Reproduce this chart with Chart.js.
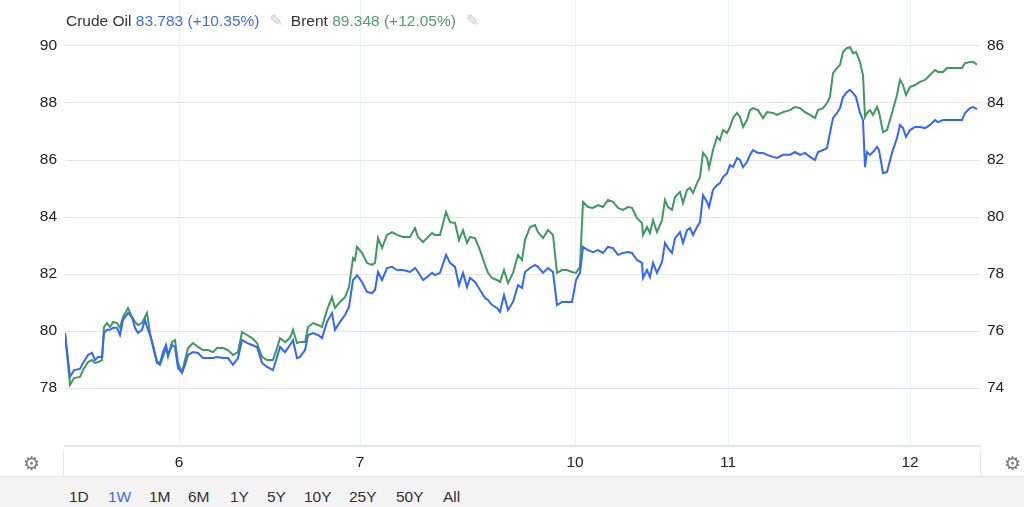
<!DOCTYPE html>
<html>
<head>
<meta charset="utf-8">
<script src="https://cdn.jsdelivr.net/npm/chart.js@4.4.1/dist/chart.umd.min.js"></script>
<style>
  html, body { margin: 0; padding: 0; background: #fff; }
  body { width: 1024px; height: 507px; position: relative; overflow: hidden;
         font-family: "Liberation Sans", Arial, sans-serif; color: #333; }
  #wrap { position: absolute; left: 0; top: 0; width: 1024px; height: 476px; }
  #legend { position: absolute; left: 66px; top: 11px; font-size: 15.5px; white-space: nowrap; color: #333; }
  #legend .crude { color: #3c6cf5; }
  #legend .brent { color: #4f9d69; }
  #legend .pen { color: #c8c8c8; font-family: "DejaVu Sans"; font-size: 16px; margin: 0 8px 0 10px; }
  .gear { position: absolute; top: 452px; font-family: "DejaVu Sans"; font-size: 19px; color: #7a7a7a; }
  .sep { position: absolute; top: 450px; width: 1px; height: 26px; background: #e8e8e8; }
  #ranges { position: absolute; left: 0; top: 476px; width: 1024px; height: 31px;
            background: #f4f4f4; border-top: 1px solid #e6e6e6; font-size: 15.5px; color: #333; }
  #ranges span { position: absolute; top: 11px; }
  #ranges span.on { color: #3c6cf5; }
</style>
</head>
<body>
<div id="wrap"><canvas id="oilChart"></canvas></div>
<div id="legend">Crude Oil <span class="crude">83.783 (+10.35%)</span><span class="pen">✎</span>Brent <span class="brent">89.348 (+12.05%)</span><span class="pen">✎</span></div>
<div class="sep" style="left:63px"></div>
<div class="sep" style="left:980px"></div>
<div class="gear" style="left:23px">⚙</div>
<div class="gear" style="left:1004px">⚙</div>
<div id="ranges"></div>
<script>
// bar positions (trading-time index) and prices
const bars = [0,5,9,15,18,23,27,30,33,37,39,42,45,48,52,55,58,63,67,70,73,77,80,82,85,88,92,95,98,101,103,107,110,113,117,120,123,128,133,138,143,148,152,158,163,168,173,177,182,187,192,197,202,208,212,215,220,225,228,232,235,240,243,248,253,257,262,267,270,275,280,284,288,290,292,297,302,307,310,313,317,322,327,332,338,345,350,353,358,362,367,370,375,381,385,390,394,398,402,405,410,415,420,423,427,432,435,439,443,448,453,457,460,465,470,473,478,483,488,492,497,502,507,511,515,518,523,528,533,538,543,548,553,558,563,567,572,577,578,582,585,588,592,597,600,603,607,610,615,618,622,625,628,632,635,638,642,644,648,652,655,658,662,665,668,672,675,678,682,685,688,693,698,702,708,712,718,725,730,735,740,745,750,753,758,762,765,768,772,775,778,782,785,788,791,795,798,800,802,805,808,812,814,818,822,827,832,835,838,841,845,850,855,860,865,870,873,878,882,887,892,897,900,905,908,912];

const brent = [79.93,78.11,78.35,78.39,78.63,78.91,78.98,78.88,78.91,78.98,80.14,80.28,80.14,80.32,80.28,80.11,80.49,80.81,80.49,80.32,80.21,80.28,80.49,80.63,79.93,79.44,78.88,78.81,79.09,79.40,79.09,79.61,79.68,78.88,78.56,78.98,79.40,79.58,79.44,79.33,79.33,79.26,79.40,79.40,79.33,79.16,79.26,79.96,79.86,79.75,79.58,79.09,78.98,78.98,79.40,79.75,79.61,79.75,80.04,79.58,79.61,79.61,80.14,80.28,80.21,80.14,80.74,81.19,80.81,81.02,81.19,81.54,82.56,82.49,82.95,82.74,82.39,82.32,82.39,83.26,82.91,83.37,83.47,83.37,83.30,83.30,83.61,83.30,83.12,83.26,83.44,83.37,83.37,84.18,83.82,83.79,83.19,83.54,83.09,83.30,83.26,82.84,82.32,82.04,81.86,81.79,81.72,82.14,81.68,82.04,82.67,82.49,83.19,83.65,83.72,83.47,83.26,83.54,83.37,82.04,82.14,82.14,82.07,82.04,82.25,84.53,84.35,84.32,84.42,84.35,84.60,84.53,84.32,84.25,84.35,84.32,83.96,83.79,83.37,83.65,83.44,83.89,83.47,83.89,84.60,84.35,84.25,84.70,84.88,84.49,84.95,85.02,84.84,85.19,85.40,86.25,86.07,85.72,86.35,86.81,86.70,87.05,86.95,87.16,87.47,87.65,87.51,87.16,87.40,87.75,87.82,87.75,87.47,87.68,87.65,87.58,87.68,87.75,87.86,87.82,87.68,87.58,87.47,87.75,87.82,88.00,88.21,89.05,89.23,89.33,89.79,89.93,89.96,89.75,89.79,89.44,88.98,87.51,87.65,87.75,87.58,87.86,87.68,86.98,87.05,87.65,88.28,88.81,88.63,88.28,88.56,88.63,88.74,88.81,88.98,89.16,89.09,89.09,89.23,89.23,89.23,89.23,89.40,89.44,89.44,89.348];

const crude = [75.93,74.39,74.63,74.67,74.88,75.16,75.23,74.98,75.09,75.09,75.93,76.04,76.04,76.11,76.11,75.86,76.39,76.63,76.49,76.11,75.93,76.04,76.39,76.14,75.86,75.51,74.91,74.88,75.26,75.51,75.16,75.51,75.44,74.70,74.53,74.81,75.16,75.26,75.23,75.05,75.05,75.05,75.09,75.05,75.05,74.81,75.05,75.68,75.58,75.51,75.44,74.88,74.74,74.63,75.09,75.44,75.26,75.51,75.68,75.05,75.09,75.33,75.86,75.93,75.86,75.75,76.32,76.63,76.04,76.32,76.56,76.84,77.79,77.86,77.96,77.72,77.37,77.33,77.44,78.07,77.79,78.21,78.25,78.14,78.14,78.07,78.21,78.07,77.79,77.89,78.04,77.96,78.04,78.67,78.39,78.25,77.61,78.04,77.54,77.86,77.72,77.44,77.16,77.09,76.91,76.81,76.67,77.26,76.74,77.02,77.61,77.51,78.07,78.21,78.32,78.25,78.04,78.21,78.07,76.91,77.02,77.02,77.02,77.79,78.04,78.95,78.84,78.77,78.84,78.74,78.95,78.91,78.67,78.74,78.77,78.74,78.49,78.39,77.86,78.14,77.89,78.39,78.04,78.42,79.09,78.91,78.74,79.26,79.47,79.09,79.54,79.61,79.37,79.65,79.82,80.77,80.53,80.35,80.95,81.12,81.19,81.40,81.54,81.82,81.75,82.07,82.00,81.75,81.93,82.18,82.35,82.25,82.25,82.18,82.11,82.07,82.18,82.18,82.28,82.18,82.25,82.11,82.00,82.28,82.35,82.42,82.95,83.47,83.65,83.82,84.21,84.39,84.46,84.35,84.21,83.65,83.40,81.75,82.28,82.18,82.28,82.46,82.35,81.54,81.58,82.25,82.77,83.23,83.12,82.81,83.05,83.16,83.16,83.12,83.23,83.40,83.33,83.40,83.40,83.40,83.40,83.40,83.65,83.82,83.86,83.783];

// day boundaries on the bar axis
const dayTicks = [114, 295, 510, 663, 845];
const dayLabels = ['6', '7', '10', '11', '12'];

const rangeLabels = ['1D', '1W', '1M', '6M', '1Y', '5Y', '10Y', '25Y', '50Y', 'All'];
const rangeLeft = [69, 108, 149, 188, 230, 267, 304, 349, 396, 443];

const ranges = document.getElementById('ranges');
rangeLabels.forEach((r, i) => {
    const s = document.createElement('span');
    s.textContent = r;
    s.style.left = rangeLeft[i] + 'px';
    if (r === '1W') s.className = 'on';
    ranges.appendChild(s);
});

const toPoints = (vals) => vals.map((v, i) => ({ x: bars[i], y: v }));

// strip the label overhang padding chart.js adds round each axis
function noPad(scale) {
    scale.paddingTop = 0;
    scale.paddingBottom = 0;
    scale.paddingLeft = 0;
    scale.paddingRight = 0;
}

Chart.defaults.font.family = '"Liberation Sans", Arial, sans-serif';
Chart.defaults.font.size = 15;

const tickFont = { family: '"Liberation Sans", Arial, sans-serif', size: 15.5 };

const ctx = document.getElementById('oilChart').getContext('2d');
const oilChart = new Chart(ctx, {
    type: 'line',
    data: {
        datasets: [
            {
                label: 'Crude Oil',
                data: toPoints(crude),
                yAxisID: 'yRight',
                borderColor: '#3366ff',
                borderWidth: 2,
                pointRadius: 0,
                tension: 0
            },
            {
                label: 'Brent',
                data: toPoints(brent),
                yAxisID: 'yLeft',
                borderColor: '#3f9a5c',
                borderWidth: 2,
                pointRadius: 0,
                tension: 0
            }
        ]
    },
    options: {
        responsive: true,
        maintainAspectRatio: false,
        animation: false,
        layout: { padding: 0, autoPadding: false },
        plugins: { legend: { display: false }, tooltip: { enabled: false } },
        scales: {
            x: {
                type: 'linear',
                min: 0,
                max: 915,
                afterBuildTicks: (scale) => { scale.ticks = dayTicks.map(v => ({ value: v })); },
                afterFit: (scale) => { scale.height = 30; noPad(scale); },
                ticks: {
                    autoSkip: false,
                    maxRotation: 0,
                    padding: 7,
                    color: '#222',
                    font: tickFont,
                    callback: (v) => dayLabels[dayTicks.indexOf(v)]
                },
                grid: { color: '#edf2f7', drawTicks: false },
                border: { color: '#e6e6e6', width: 2 }
            },
            yLeft: {
                position: 'left',
                min: 75.965,
                max: 91.614,
                afterBuildTicks: (scale) => { scale.ticks = scale.ticks.filter(t => t.value >= 77 && t.value <= 90 && t.value % 2 === 0); },
                afterFit: (scale) => { scale.width = 65; noPad(scale); },
                ticks: { stepSize: 2, padding: 8, includeBounds: false, color: '#222', font: tickFont },
                grid: { color: '#e6e6e6', drawTicks: false },
                border: { display: false }
            },
            yRight: {
                position: 'right',
                min: 71.965,
                max: 87.614,
                afterBuildTicks: (scale) => { scale.ticks = scale.ticks.filter(t => t.value >= 73 && t.value <= 86 && t.value % 2 === 0); },
                afterFit: (scale) => { scale.width = 44; noPad(scale); },
                ticks: { stepSize: 2, padding: 7, includeBounds: false, color: '#222', font: tickFont },
                grid: { display: false, drawTicks: false, tickLength: 0 },
                border: { display: false }
            }
        }
    }
});
</script>
</body>
</html>
